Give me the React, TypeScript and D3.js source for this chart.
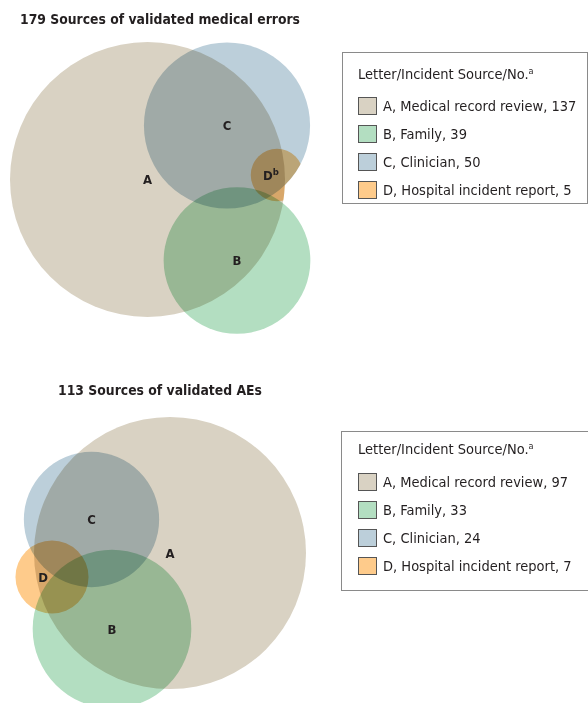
import { useRef, useEffect } from "react";
import * as d3 from "d3";

const width = 588;
const height = 703;
const FONT = "'Liberation Sans Narrow', 'DejaVu Sans Condensed', Roboto, sans-serif";

const letters = ["A", "B", "C", "D"];
const sourceNames = ["Medical record review", "Family", "Clinician", "Hospital incident report"];
const COLORS = ["#d9d2c3", "#b3dec1", "#bccfda", "#fecb8b"];

const errorCounts = [137, 39, 50, 5];
const aeCounts = [97, 33, 24, 7];
const errorTotal = 179;
const aeTotal = 113;

// venn layout, placed by eye (circle centres in px)
const errorCentres: [number, number][] = [[147.5, 179.5], [237, 260.5], [227, 125.5], [277, 175]];
const aeCentres: [number, number][] = [[170, 553], [112, 629], [91.5, 519.5], [52, 577]];

interface Panel {
  id: string;
  title: string;
  titleY: number;
  titleW: number;
  counts: number[];
  centres: [number, number][];
  maxR: number;
  dShift: number;
  dSup: string;
  clipD: boolean;
  box: { x: number; y: number; w: number; h: number };
  legendTitleY: number;
  legendRowY: number;
}

const panels: Panel[] = [
  {
    id: "err",
    title: `${errorTotal} Sources of validated medical errors`,
    titleY: 24,
    titleW: 280,
    counts: errorCounts,
    centres: errorCentres,
    maxR: 137.5,
    dShift: -6,
    dSup: "b",
    clipD: true,
    box: { x: 342.5, y: 52.5, w: 245, h: 151 },
    legendTitleY: 79,
    legendRowY: 106,
  },
  {
    id: "ae",
    title: `${aeTotal} Sources of validated AEs`,
    titleY: 395,
    titleW: 204,
    counts: aeCounts,
    centres: aeCentres,
    maxR: 136,
    dShift: -9,
    dSup: "",
    clipD: false,
    box: { x: 341.5, y: 431.5, w: 255, h: 159 },
    legendTitleY: 454,
    legendRowY: 482,
  },
];

export default function App() {
  const ref = useRef<SVGSVGElement | null>(null);

  useEffect(() => {
    const svg = d3.select(ref.current).attr("width", width).attr("height", height);
    svg.selectAll("*").remove();
    const defs = svg.append("defs");

    panels.forEach((p) => {
      const r = d3.scaleSqrt().domain([0, d3.max(p.counts)!]).range([0, p.maxR]);

      svg
        .append("text")
        .attr("x", 160)
        .attr("y", p.titleY)
        .attr("text-anchor", "middle")
        .attr("font-family", FONT)
        .attr("font-size", 14)
        .attr("font-weight", 600)
        .attr("fill", "#231f20")
        .attr("textLength", p.titleW)
        .attr("lengthAdjust", "spacingAndGlyphs")
        .text(p.title);

      // D only shows where it falls inside A or C
      const clipId = `clip-${p.id}`;
      const clip = defs.append("clipPath").attr("id", clipId);
      [0, 2].forEach((i) =>
        clip
          .append("circle")
          .attr("cx", p.centres[i][0])
          .attr("cy", p.centres[i][1])
          .attr("r", r(p.counts[i]))
      );

      const g = svg.append("g");
      g.selectAll("circle")
        .data(p.counts)
        .join("circle")
        .attr("cx", (_, i) => p.centres[i][0])
        .attr("cy", (_, i) => p.centres[i][1])
        .attr("r", (d) => r(d))
        .attr("fill", (_, i) => COLORS[i])
        .style("mix-blend-mode", "multiply")
        .attr("clip-path", (_, i) => (i === 3 && p.clipD ? `url(#${clipId})` : null));

      const labels = svg
        .append("g")
        .attr("font-family", FONT)
        .attr("font-size", 13)
        .attr("font-weight", 600)
        .attr("fill", "#231f20");
      letters.forEach((l, i) => {
        const t = labels
          .append("text")
          .attr("x", p.centres[i][0] + (i === 3 ? p.dShift : 0))
          .attr("y", p.centres[i][1])
          .attr("text-anchor", "middle")
          .attr("dominant-baseline", "central")
          .text(l);
        if (i === 3 && p.dSup) {
          t.append("tspan").attr("font-size", 9.5).attr("dy", -4).text(p.dSup);
        }
      });

      // legend
      const lg = svg.append("g").attr("font-family", FONT).attr("fill", "#231f20");
      lg.append("rect")
        .attr("x", p.box.x)
        .attr("y", p.box.y)
        .attr("width", p.box.w)
        .attr("height", p.box.h)
        .attr("fill", "white")
        .attr("stroke", "#8a8a8a")
        .attr("stroke-width", 1);
      const lt = lg
        .append("text")
        .attr("x", 358)
        .attr("y", p.legendTitleY)
        .attr("font-size", 14.5)
        .text("Letter/Incident Source/No.");
      lt.append("tspan").attr("font-size", 9).attr("dy", -5).text("a");

      const rows = lg
        .selectAll("g.row")
        .data(p.counts)
        .join("g")
        .attr("class", "row")
        .attr("transform", (_, i) => `translate(0,${p.legendRowY + i * 28})`);
      rows
        .append("rect")
        .attr("x", 358.5)
        .attr("y", -8.5)
        .attr("width", 18)
        .attr("height", 17)
        .attr("fill", (_, i) => COLORS[i])
        .attr("stroke", "#555")
        .attr("stroke-width", 1);
      rows
        .append("text")
        .attr("x", 383)
        .attr("y", 0)
        .attr("dy", "0.35em")
        .attr("font-size", 14.5)
        .text((d, i) => `${letters[i]}, ${sourceNames[i]}, ${d}`);
    });
  }, []);

  return (
    <svg
      ref={ref}
      style={{ position: "absolute", left: 0, top: 0, background: "white" }}
    />
  );
}
